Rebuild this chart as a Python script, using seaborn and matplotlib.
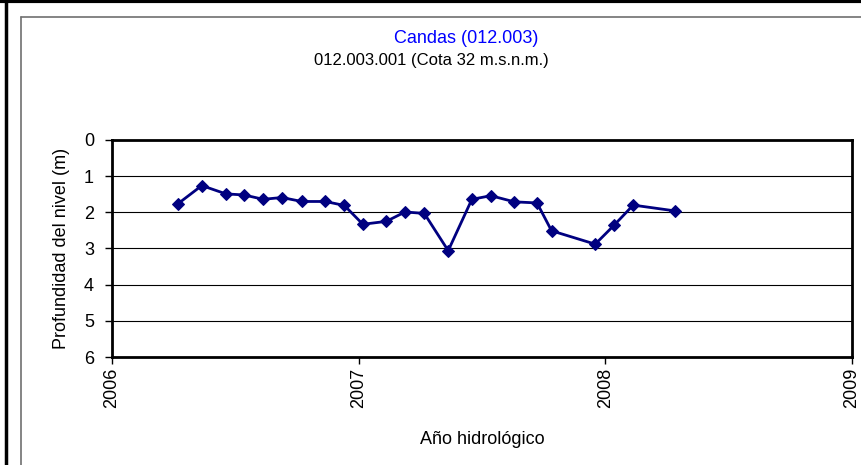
import matplotlib
matplotlib.use("Agg")
import matplotlib.pyplot as plt
import seaborn as sns
import pandas as pd
from matplotlib.lines import Line2D

sns.set_theme(style="white")
plt.rcParams['font.family'] = ['Liberation Sans', 'DejaVu Sans']

# Data (fractional hydrological year, depth in m)
anio = [2006.266, 2006.364, 2006.462, 2006.536, 2006.613, 2006.689, 2006.769,
        2006.865, 2006.942, 2007.017, 2007.112, 2007.188, 2007.266, 2007.363,
        2007.459, 2007.536, 2007.631, 2007.723, 2007.782, 2007.959, 2008.035,
        2008.113, 2008.282]
profundidad = [1.77, 1.26, 1.49, 1.52, 1.64, 1.59, 1.70, 1.70, 1.81, 2.33, 2.25,
               1.99, 2.03, 3.06, 1.64, 1.54, 1.71, 1.74, 2.51, 2.88, 2.36, 1.80, 1.96]
x_ticks = [2006, 2007, 2008, 2009]
y_ticks = [0, 1, 2, 3, 4, 5, 6]
titulo = "Candas (012.003)"
subtitulo = "012.003.001 (Cota 32 m.s.n.m.)"

df = pd.DataFrame({"anio": anio, "prof": profundidad})

W, H = 861, 465
fig = plt.figure(figsize=(W / 100, H / 100), dpi=100)
fig.patch.set_facecolor("white")
ax = fig.add_axes([112 / W, 1 - 357 / H, (852 - 112) / W, (357 - 140) / H])

sns.lineplot(data=df, x="anio", y="prof", ax=ax, color="#000080", linewidth=2,
             marker="D", markersize=6.5, markeredgecolor="#000080", sort=False)

ax.set_xlim(2006, 2009)
ax.set_ylim(6, 0)
ax.set_xticks(x_ticks)
ax.set_xticklabels([str(t) for t in x_ticks], rotation=90, fontsize=13)
ax.set_yticks(y_ticks)
ax.set_yticklabels([str(t) for t in y_ticks], fontsize=13)
for y in y_ticks[1:-1]:
    ax.axhline(y, color="black", linewidth=0.8, zorder=0)
for s in ax.spines.values():
    s.set_color("black")
    s.set_linewidth(2)
    s.set_visible(True)
ax.tick_params(axis="both", direction="out", length=5, width=1, color="black",
               bottom=True, left=True, labelcolor="black")
ax.tick_params(axis="y", pad=8)
ax.tick_params(axis="x", pad=3)
ax.set_xlabel("Año hidrológico", fontsize=13, color="black", labelpad=16)
ax.set_ylabel("Profundidad del nivel (m)", fontsize=13, color="black", labelpad=10)

fig.text(466 / W, 1 - 38 / H, titulo, color="#0000FF", fontsize=13,
         ha="center", va="center")
fig.text(431 / W, 1 - 60 / H, subtitulo, color="black", fontsize=12,
         ha="center", va="center")

# Outer frames
fig.add_artist(Line2D([6 / W, 6 / W], [0, 1], color="black", linewidth=2.5,
                      transform=fig.transFigure))
fig.add_artist(Line2D([0, 1], [1 - 1 / H, 1 - 1 / H], color="black", linewidth=3,
                      transform=fig.transFigure))
fig.add_artist(Line2D([20.5 / W, 20.5 / W], [0, 1 - 17 / H], color="#707070",
                      linewidth=1.2, transform=fig.transFigure))
fig.add_artist(Line2D([20.5 / W, 1], [1 - 17 / H, 1 - 17 / H], color="#707070",
                      linewidth=1.2, transform=fig.transFigure))

fig.savefig("out.png", dpi=100)
